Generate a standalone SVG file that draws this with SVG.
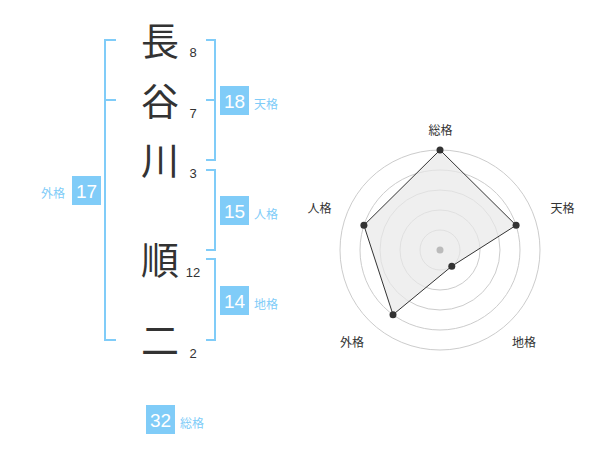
<svg xmlns="http://www.w3.org/2000/svg" width="600" height="470" viewBox="0 0 600 470">
<style>
.kanji{font-family:"Noto Sans CJK JP","Noto Sans CJK SC",sans-serif;font-size:38px;fill:#333;text-anchor:middle}
.num{font-family:"Liberation Sans",Arial,sans-serif;font-size:13px;fill:#333;text-anchor:middle}
.br{fill:none;stroke:#80ccf8;stroke-width:2}
.box{fill:#80ccf8}
.boxt{font-family:"Liberation Sans",Arial,sans-serif;font-size:19px;fill:#fff;text-anchor:middle}
.lbl{font-family:"Noto Sans CJK JP","Noto Sans CJK SC",sans-serif;font-size:12px;fill:#80ccf8}
.rl{font-family:"Noto Sans CJK JP","Noto Sans CJK SC",sans-serif;font-size:12px;fill:#333;text-anchor:middle}
.ring{fill:none;stroke:#ccc;stroke-width:1}
.dot{fill:#333}
</style>
<rect width="600" height="470" fill="#fff"/>
<g id="name">
<g id="c1"><text class="kanji" x="160" y="55">長</text><text class="num" x="193" y="57">8</text></g>
<g id="c2"><text class="kanji" x="160" y="115">谷</text><text class="num" x="193" y="118">7</text></g>
<g id="c3"><text class="kanji" x="160" y="174">川</text><text class="num" x="193" y="178">3</text></g>
<g id="c4"><text class="kanji" x="160" y="274">順</text><text class="num" x="193" y="277">12</text></g>
<g id="c5"><text class="kanji" x="160" y="354">二</text><text class="num" x="193" y="358">2</text></g>
</g>
<g id="connectors">
<path class="br" d="M116,40H105V340H116M105,100H116"/>
<path class="br" d="M206,40H215V160H206M206,100H215"/>
<path class="br" d="M206,170H215V250H206"/>
<path class="br" d="M206,259H215V340H206"/>
</g>
<g id="tenkaku"><rect class="box" x="220" y="86" width="29" height="29"/><text class="boxt" x="234.5" y="107.5">18</text><text class="lbl" x="254" y="109">天格</text></g>
<g id="jinkaku"><rect class="box" x="220" y="196" width="29" height="29"/><text class="boxt" x="234.5" y="217.5">15</text><text class="lbl" x="254" y="219">人格</text></g>
<g id="chikaku"><rect class="box" x="220" y="286" width="29" height="29"/><text class="boxt" x="234.5" y="307.5">14</text><text class="lbl" x="254" y="309">地格</text></g>
<g id="gaikaku"><rect class="box" x="72" y="176" width="29" height="29"/><text class="boxt" x="86.5" y="197.5">17</text><text class="lbl" x="41" y="198">外格</text></g>
<g id="soukaku"><rect class="box" x="146" y="405" width="29" height="29"/><text class="boxt" x="160.5" y="426.5">32</text><text class="lbl" x="180" y="428">総格</text></g>
<g id="radar">
<circle class="ring" cx="440" cy="250" r="20"/>
<circle class="ring" cx="440" cy="250" r="40"/>
<circle class="ring" cx="440" cy="250" r="60"/>
<circle class="ring" cx="440" cy="250" r="80"/>
<circle class="ring" cx="440" cy="250" r="100"/>
<polygon points="440,150 516.1,225.3 451.8,266.2 393,314.7 363.9,225.3" fill="#e8e8e8" fill-opacity="0.7" stroke="#333" stroke-width="1"/>
<circle cx="440" cy="250" r="3.5" fill="#bbb"/>
<circle class="dot" cx="440" cy="150" r="3.5"/>
<circle class="dot" cx="516.1" cy="225.3" r="3.5"/>
<circle class="dot" cx="451.8" cy="266.2" r="3.5"/>
<circle class="dot" cx="393" cy="314.7" r="3.5"/>
<circle class="dot" cx="363.9" cy="225.3" r="3.5"/>
<text class="rl" x="440.5" y="135">総格</text>
<text class="rl" x="562.5" y="213">天格</text>
<text class="rl" x="319.5" y="213">人格</text>
<text class="rl" x="352" y="347">外格</text>
<text class="rl" x="524" y="347">地格</text>
</g>
</svg>
